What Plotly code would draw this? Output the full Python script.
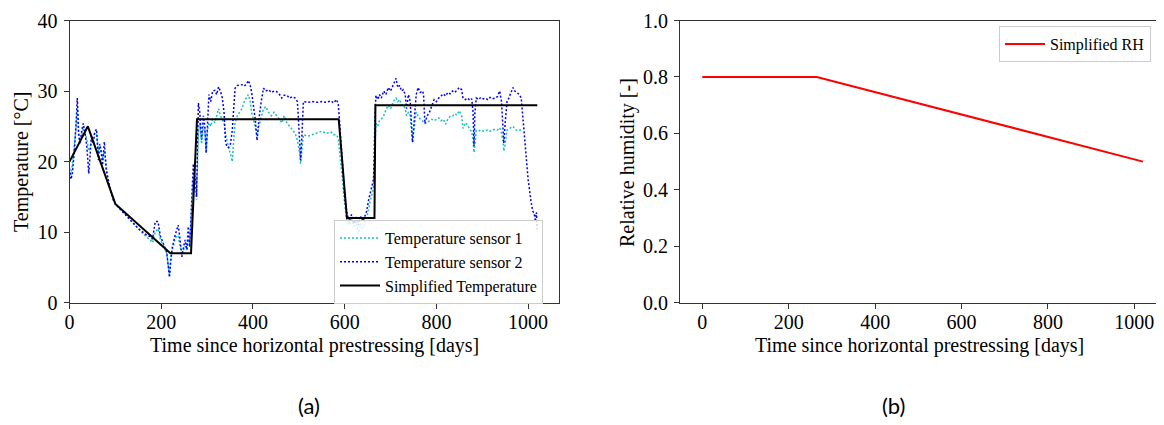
import plotly.graph_objects as go

# ---------------- data ----------------
s2_days = [0, 3, 6, 10, 14, 17, 20, 23, 27, 30,
           34, 38, 42, 45, 48, 52, 55, 59, 63, 66,
           69, 72, 76, 80, 84, 88, 92, 96, 100, 110,
           120, 130, 140, 150, 160, 170, 175, 181, 187, 193,
           198, 203, 208, 212, 215, 218, 221, 224, 230, 234,
           237, 241, 245, 249, 252, 256, 259, 262, 265, 267,
           270, 273, 275, 277, 279, 281, 284, 288, 292, 295,
           298, 301, 304, 308, 312, 317, 321, 325, 329, 333,
           337, 340, 343, 347, 351, 355, 358, 361, 366, 371,
           376, 381, 386, 390, 394, 397, 401, 405, 409, 413,
           418, 423, 428, 434, 440, 446, 452, 458, 463, 468,
           474, 480, 486, 492, 497, 501, 504, 507, 510, 520,
           530, 540, 550, 560, 570, 576, 582, 586, 590, 595,
           600, 605, 610, 615, 620, 625, 630, 635, 640, 645,
           648, 652, 656, 660, 663, 666, 668, 672, 676, 680,
           685, 690, 695, 700, 706, 712, 716, 720, 724, 728,
           732, 735, 739, 743, 748, 752, 756, 760, 765, 770,
           772, 775, 780, 785, 790, 795, 800, 805, 810, 815,
           820, 825, 830, 835, 840, 845, 850, 855, 858, 863,
           868, 873, 877, 880, 882, 884, 887, 892, 897, 902,
           907, 912, 917, 922, 928, 933, 938, 942, 945, 947,
           950, 954, 958, 962, 967, 971, 976, 981, 985, 990,
           995, 1000, 1006, 1010, 1013, 1016, 1018, 1020]
s2_temp = [19.0, 17.5, 18.2, 21.0, 25.0, 29.0, 24.0, 22.6, 24.5, 25.4,
           24.0, 22.0, 18.3, 21.0, 23.7, 22.5, 24.2, 24.6, 20.2, 22.5,
           21.5, 19.5, 22.8, 18.8, 17.5, 16.4, 15.5, 14.5, 14.0, 13.3,
           12.6, 11.9, 11.2, 10.5, 10.0, 9.5, 9.4, 9.0, 11.5, 11.5,
           9.5, 8.5, 7.8, 7.1, 5.0, 3.6, 6.0, 7.8, 9.5, 10.5,
           11.0, 9.0, 6.5, 8.0, 8.9, 7.5, 10.8, 7.9, 12.0, 15.9,
           19.7, 17.0, 18.0, 15.0, 22.0, 28.3, 27.0, 23.1, 26.5, 25.0,
           21.2, 26.0, 29.5, 28.5, 30.0, 30.1, 29.5, 30.6, 30.0, 29.1,
           27.0, 23.0, 22.1, 22.0, 22.5, 24.5, 27.0, 30.4, 30.8, 30.8,
           30.9, 30.7, 31.0, 31.5, 30.8, 29.9, 28.0, 26.0, 23.0, 26.0,
           28.5, 30.4, 30.0, 30.2, 29.8, 30.0, 29.9, 29.5, 29.0, 29.4,
           29.4, 29.0, 29.2, 29.0, 28.5, 24.0, 20.2, 24.0, 28.5, 28.4,
           28.5, 28.4, 28.5, 28.4, 28.6, 28.3, 28.8, 28.2, 25.0, 20.0,
           15.0, 12.7, 11.5, 12.5, 11.2, 12.3, 11.0, 12.2, 11.5, 12.5,
           13.0, 14.5, 15.5, 16.4, 17.5, 26.0, 29.4, 28.8, 29.5, 29.0,
           30.0, 29.5, 30.5, 30.0, 31.0, 31.8, 30.5, 30.8, 30.0, 30.2,
           29.5, 27.5, 29.5, 28.5, 22.7, 26.0, 29.5, 30.5, 29.8, 30.0,
           29.5, 25.4, 26.5, 27.0, 28.0, 28.8, 28.5, 29.0, 29.3, 29.6,
           29.3, 29.8, 29.6, 30.0, 29.8, 30.2, 30.5, 30.2, 29.0, 28.8,
           29.0, 28.7, 28.9, 27.0, 22.2, 27.0, 29.0, 28.8, 29.1, 28.9,
           29.0, 28.8, 29.1, 28.9, 29.0, 29.2, 30.0, 28.5, 25.0, 22.6,
           25.5, 28.5, 29.0, 29.8, 30.5, 30.0, 29.7, 29.5, 29.0, 25.0,
           20.7, 17.5, 14.5, 13.0, 12.7, 11.5, 12.8, 10.4]

s1_days = [0, 3, 6, 10, 14, 17, 20, 23, 27, 30,
           34, 38, 42, 45, 48, 52, 55, 59, 63, 66,
           69, 72, 76, 80, 84, 88, 92, 96, 100, 110,
           120, 130, 140, 150, 160, 170, 175, 181, 187, 193,
           198, 203, 208, 212, 215, 218, 221, 224, 230, 234,
           237, 241, 245, 249, 252, 256, 259, 262, 265, 267,
           270, 273, 275, 277, 279, 281, 284, 288, 292, 295,
           298, 301, 304, 308, 312, 317, 321, 325, 329, 333,
           337, 340, 343, 347, 351, 355, 358, 361, 366, 371,
           376, 381, 386, 390, 394, 397, 401, 405, 409, 413,
           418, 423, 428, 434, 440, 446, 452, 458, 463, 468,
           474, 480, 486, 492, 497, 501, 504, 507, 510, 520,
           530, 540, 550, 560, 570, 576, 582, 586, 590, 595,
           600, 605, 610, 615, 620, 625, 630, 635, 640, 645,
           648, 652, 656, 660, 663, 666, 668, 672, 676, 680,
           685, 690, 695, 700, 706, 712, 716, 720, 724, 728,
           732, 735, 739, 743, 748, 752, 756, 760, 765, 770,
           772, 775, 780, 785, 790, 795, 800, 805, 810, 815,
           820, 825, 830, 835, 840, 845, 850, 855, 858, 863,
           868, 873, 877, 880, 882, 884, 887, 892, 897, 902,
           907, 912, 917, 922, 928, 933, 938, 942, 945, 947,
           950, 954, 958, 962, 967, 971, 976, 981, 985, 988]
s1_temp = [18.5, 18.0, 19.5, 22.0, 24.5, 27.5, 23.5, 22.5, 24.0, 24.8,
           24.0, 23.0, 21.5, 22.0, 23.0, 23.5, 24.0, 24.0, 21.5, 22.0,
           21.0, 20.5, 21.5, 19.0, 17.5, 16.2, 15.3, 14.5, 14.0, 13.3,
           12.6, 11.9, 11.1, 10.4, 9.8, 9.2, 9.0, 8.5, 10.0, 10.5,
           9.0, 8.3, 7.6, 7.0, 5.5, 4.0, 6.5, 7.5, 9.0, 9.5,
           9.5, 8.0, 6.8, 7.5, 8.0, 7.5, 9.0, 8.0, 12.0, 14.5,
           17.5, 16.0, 16.5, 14.6, 18.0, 24.0, 25.5, 22.5, 25.0, 24.5,
           21.5, 24.5, 25.5, 25.0, 26.0, 25.5, 26.5, 27.5, 26.5, 26.0,
           25.5, 24.0, 23.0, 22.0, 21.0, 20.0, 23.0, 25.5, 26.5, 27.0,
           27.5, 28.5, 29.0, 29.5, 28.5, 27.0, 26.0, 25.0, 23.7, 25.0,
           26.5, 27.5, 27.8, 27.0, 26.5, 27.0, 26.5, 26.0, 25.5, 26.5,
           25.5, 25.0, 24.5, 24.0, 23.0, 21.5, 19.7, 22.0, 23.8, 23.6,
           23.8, 24.1, 24.3, 24.0, 24.2, 23.8, 23.8, 23.3, 21.0, 17.5,
           14.0, 11.5, 11.0, 11.8, 10.8, 11.5, 9.8, 11.2, 10.5, 11.8,
           12.0, 13.5, 14.5, 15.5, 16.5, 22.0, 25.4, 25.0, 25.8, 26.0,
           26.5, 27.3, 28.0, 27.5, 28.5, 29.0, 28.5, 28.8, 28.0, 28.0,
           27.5, 26.5, 27.0, 26.5, 22.8, 25.0, 27.0, 26.5, 26.0, 25.8,
           25.5, 25.4, 25.5, 25.8, 26.0, 25.8, 26.0, 26.2, 25.8, 26.0,
           25.3, 26.0, 26.4, 26.4, 26.8, 26.6, 27.2, 26.5, 24.7, 25.5,
           25.2, 24.5, 24.3, 23.0, 21.3, 23.0, 24.4, 24.3, 24.5, 24.3,
           24.4, 24.5, 24.3, 24.4, 24.6, 24.5, 24.8, 24.0, 23.0, 21.5,
           22.5, 24.5, 24.6, 24.8, 25.0, 24.6, 24.4, 24.4, 24.5, 24.5]

simp_days = [0, 40, 100, 220, 265, 278, 587, 605, 665, 667, 1020]
simp_temp = [20, 25, 14, 7, 7, 26, 26, 12, 12, 28, 28]

rh_days = [0, 265, 1020]
rh_vals = [0.8, 0.8, 0.5]

temp_ticks = [0, 10, 20, 30, 40]
rh_ticks = [0.0, 0.2, 0.4, 0.6, 0.8, 1.0]
day_ticks = [0, 200, 400, 600, 800, 1000]

assert len(s1_days) == len(s1_temp) and len(s2_days) == len(s2_temp)

# ---------------- figure ----------------
# the page body has an 8px default margin, so the figure is drawn at (8, 8)
OFF = 8
W, H = 1164 - OFF, 425 - OFF
SERIF = "Liberation Serif, Times New Roman, serif"


def px(x):
    return (x - OFF) / W


def py(y):
    return 1 - (y - OFF) / H


fig = go.Figure()
fig.add_trace(go.Scatter(x=s1_days, y=s1_temp, mode="lines", name="Temperature sensor 1",
                         line=dict(color="#17c0c0", width=1.5, dash="2px,2px"),
                         xaxis="x", yaxis="y", legend="legend"))
fig.add_trace(go.Scatter(x=s2_days, y=s2_temp, mode="lines", name="Temperature sensor 2",
                         line=dict(color="#0000ff", width=1.5, dash="2px,2px"),
                         xaxis="x", yaxis="y", legend="legend"))
fig.add_trace(go.Scatter(x=simp_days, y=simp_temp, mode="lines", name="Simplified Temperature",
                         line=dict(color="black", width=2),
                         xaxis="x", yaxis="y", legend="legend"))
fig.add_trace(go.Scatter(x=rh_days, y=rh_vals, mode="lines", name="Simplified RH",
                         line=dict(color="#ff0000", width=2),
                         xaxis="x2", yaxis="y2", legend="legend2"))

ydom = [py(302.7), py(20.5)]
common = dict(showgrid=False, zeroline=False, showline=True, linecolor="#333333", linewidth=1,
              mirror=True, ticks="outside", ticklen=5, tickcolor="#333333", tickwidth=1,
              automargin=False,
              tickfont=dict(family=SERIF, size=20, color="black"))
xstyle = dict(common, ticklabelstandoff=-4)
ystyle = dict(common, ticklabelstandoff=2)

fig.update_layout(
    template="none",
    width=W, height=H,
    margin=dict(l=0, r=0, t=0, b=0, pad=0, autoexpand=False),
    paper_bgcolor="white", plot_bgcolor="white",
    font=dict(family=SERIF, color="black"),
    xaxis=dict(domain=[px(69.5), px(559.3)], range=[0, 1068], tickvals=day_ticks,
               anchor="y", **xstyle),
    yaxis=dict(domain=ydom, range=[0, 40], tickvals=temp_ticks, anchor="x", **ystyle),
    xaxis2=dict(domain=[px(680), px(1159)], range=[-51.6, 1057], tickvals=day_ticks,
                anchor="y2", **xstyle),
    yaxis2=dict(domain=ydom, range=[0, 1], tickvals=rh_ticks, tickformat=".1f",
                anchor="x2", **ystyle),
    legend=dict(x=px(334), y=py(220), xanchor="left", yanchor="top",
                bgcolor="rgba(255,255,255,0.8)", bordercolor="#cccccc", borderwidth=1,
                font=dict(family=SERIF, size=16, color="black"), tracegroupgap=0,
                itemwidth=40),
    legend2=dict(x=px(999), y=py(26), xanchor="left", yanchor="top",
                 bgcolor="rgba(255,255,255,0.8)", bordercolor="#cccccc", borderwidth=1,
                 font=dict(family=SERIF, size=16, color="black"), itemwidth=40),
    showlegend=True,
)

ann_font = dict(family=SERIF, size=20, color="black")
annotations = [
    dict(text="Temperature [°C]", x=px(22), y=py(162), textangle=-90, font=ann_font),
    dict(text="Relative humidity [-]", x=px(627), y=py(163), textangle=-90, font=ann_font),
    dict(text="Time since horizontal prestressing [days]", x=px(314.5), y=py(345), font=ann_font),
    dict(text="Time since horizontal prestressing [days]", x=px(919.5), y=py(345), font=ann_font),
    dict(text="(a)", x=px(309), y=py(405), font=dict(family="Lato", size=22, color="black")),
    dict(text="(b)", x=px(893), y=py(405), font=dict(family="Lato", size=22, color="black")),
]
for a in annotations:
    a.update(xref="paper", yref="paper", xanchor="center", yanchor="middle", showarrow=False)
fig.update_layout(annotations=annotations)

fig.write_html("out.html")
